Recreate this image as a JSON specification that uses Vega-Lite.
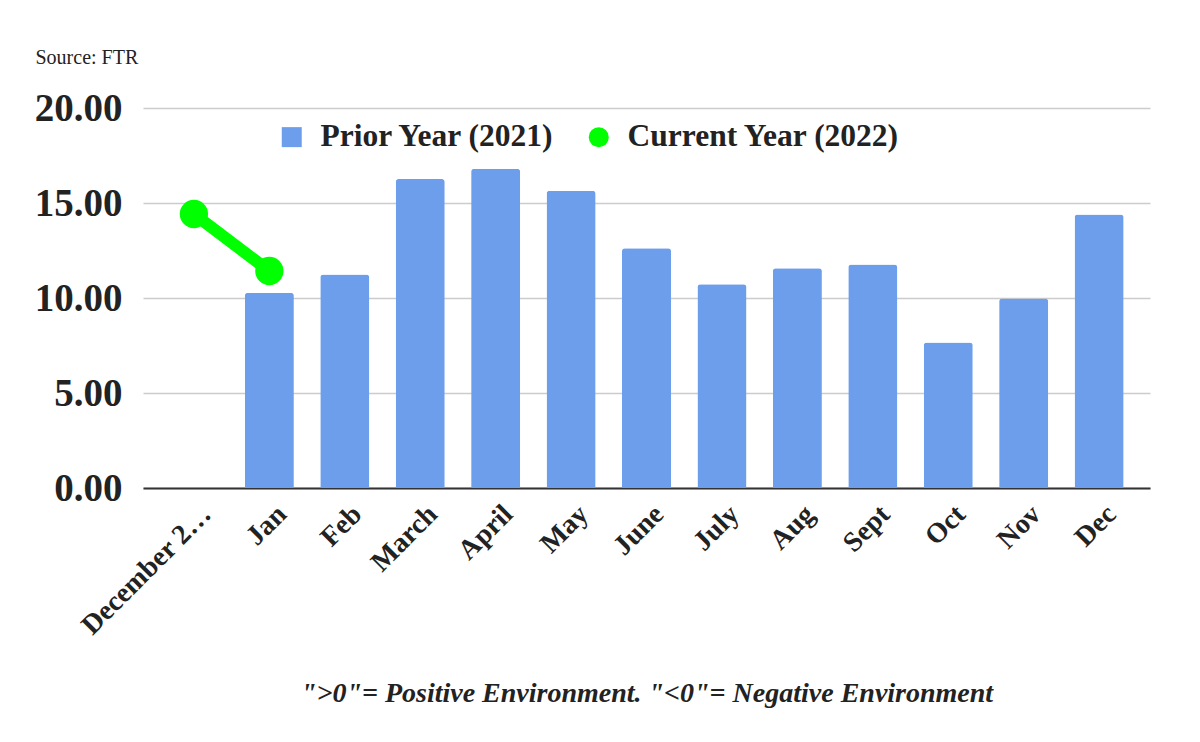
{
  "$schema": "https://vega.github.io/schema/vega-lite/v6.json",
  "autosize": "none",
  "width": 1007,
  "height": 380,
  "padding": {"left": 143, "top": 108, "right": 50, "bottom": 254},
  "background": "white",
  "config": {"view": {"stroke": null}, "font": "Liberation Serif"},
  "data": {
    "values": [
      {"month": "December 2021", "Prior Year (2021)": null, "Current Year (2022)": 14.42},
      {"month": "Jan", "Prior Year (2021)": 10.28, "Current Year (2022)": 11.42},
      {"month": "Feb", "Prior Year (2021)": 11.24, "Current Year (2022)": null},
      {"month": "March", "Prior Year (2021)": 16.26, "Current Year (2022)": null},
      {"month": "April", "Prior Year (2021)": 16.8, "Current Year (2022)": null},
      {"month": "May", "Prior Year (2021)": 15.64, "Current Year (2022)": null},
      {"month": "June", "Prior Year (2021)": 12.62, "Current Year (2022)": null},
      {"month": "July", "Prior Year (2021)": 10.72, "Current Year (2022)": null},
      {"month": "Aug", "Prior Year (2021)": 11.56, "Current Year (2022)": null},
      {"month": "Sept", "Prior Year (2021)": 11.76, "Current Year (2022)": null},
      {"month": "Oct", "Prior Year (2021)": 7.66, "Current Year (2022)": null},
      {"month": "Nov", "Prior Year (2021)": 9.98, "Current Year (2022)": null},
      {"month": "Dec", "Prior Year (2021)": 14.4, "Current Year (2022)": null}
    ]
  },
  "transform": [
    {"fold": ["Prior Year (2021)", "Current Year (2022)"], "as": ["series", "value"]},
    {"filter": "datum.value != null"}
  ],
  "encoding": {
    "x": {
      "field": "month",
      "type": "nominal",
      "sort": ["December 2021", "Jan", "Feb", "March", "April", "May", "June", "July", "Aug", "Sept", "Oct", "Nov", "Dec"],
      "scale": {"paddingInner": 0.35, "paddingOuter": 0.35},
      "axis": {
        "title": "\">0\"= Positive Environment. \"<0\"= Negative Environment",
        "titleFont": "Liberation Serif",
        "titleFontStyle": "italic",
        "titleFontWeight": "bold",
        "titleFontSize": 28,
        "titleColor": "#222222",
        "titleY": 213,
        "titleBaseline": "alphabetic",
        "labelAngle": -45,
        "labelFont": "Liberation Serif",
        "labelFontWeight": "bold",
        "labelFontSize": 28,
        "labelColor": "#222222",
        "labelPadding": 12,
        "labelOffset": 3,
        "labelLimit": 175,
        "ticks": false,
        "domain": true,
        "domainColor": "#333333",
        "domainWidth": 2,
        "grid": false
      }
    },
    "y": {
      "field": "value",
      "type": "quantitative",
      "scale": {"domain": [0, 20]},
      "axis": {
        "title": "Source: FTR",
        "titleAngle": 0,
        "titleX": -108,
        "titleY": -45,
        "titleAlign": "left",
        "titleBaseline": "alphabetic",
        "titleFont": "Liberation Serif",
        "titleFontSize": 20,
        "titleFontWeight": "normal",
        "titleColor": "#222222",
        "values": [0, 5, 10, 15, 20],
        "format": ".2f",
        "labelFont": "Liberation Serif",
        "labelFontSize": 39,
        "labelFontWeight": "bold",
        "labelColor": "#222222",
        "labelPadding": 21,
        "ticks": false,
        "domain": false,
        "grid": true,
        "gridColor": "#cccccc",
        "gridWidth": 1.5
      }
    }
  },
  "layer": [
    {
      "transform": [{"filter": "datum.series == 'Prior Year (2021)'"}],
      "mark": {"type": "bar", "color": "#6d9eeb", "cornerRadiusTopLeft": 3, "cornerRadiusTopRight": 3},
      "encoding": {}
    },
    {
      "transform": [{"filter": "datum.series == 'Current Year (2022)'"}],
      "mark": {"type": "line", "color": "#00ff00", "strokeWidth": 12},
      "encoding": {}
    },
    {
      "transform": [{"filter": "datum.series == 'Current Year (2022)'"}],
      "mark": {"type": "point", "filled": true, "size": 800, "opacity": 1},
      "encoding": {
        "color": {
          "field": "series",
          "type": "nominal",
          "scale": {"domain": ["Prior Year (2021)", "Current Year (2022)"], "range": ["#6d9eeb", "#00ff00"]},
          "legend": {
            "title": null,
            "orient": "none",
            "legendX": 133,
            "legendY": 13,
            "direction": "horizontal",
            "labelFont": "Liberation Serif",
            "labelFontWeight": "bold",
            "labelFontSize": 31.5,
            "labelColor": "#222222",
            "labelLimit": 400,
            "labelOffset": 13,
            "columnPadding": 28,
            "symbolSize": 400,
            "symbolStrokeWidth": 0,
            "symbolOpacity": 1
          }
        },
        "shape": {
          "field": "series",
          "type": "nominal",
          "scale": {"domain": ["Prior Year (2021)", "Current Year (2022)"], "range": ["square", "circle"]},
          "legend": {
            "title": null,
            "orient": "none",
            "legendX": 133,
            "legendY": 13,
            "direction": "horizontal",
            "labelFont": "Liberation Serif",
            "labelFontWeight": "bold",
            "labelFontSize": 31.5,
            "labelColor": "#222222",
            "labelLimit": 400,
            "labelOffset": 13,
            "columnPadding": 28,
            "symbolSize": 400,
            "symbolStrokeWidth": 0,
            "symbolOpacity": 1
          }
        }
      }
    }
  ]
}
